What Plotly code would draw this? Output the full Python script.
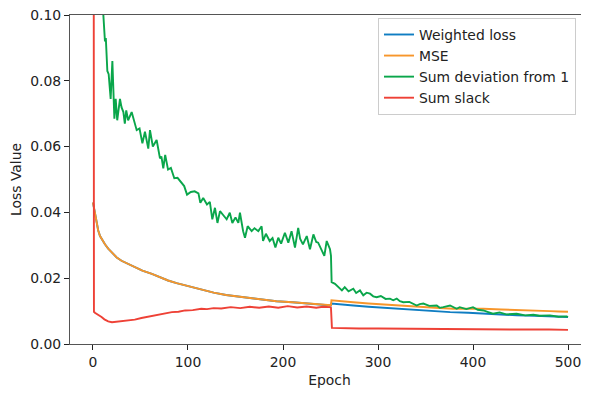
import plotly.graph_objects as go

# ---- Data ----
green_epoch = [0, 5, 8, 10.9, 12.6, 13.5, 15.1, 16.5, 18.6, 20.4, 21.5, 22.5, 23.9, 25.5, 28.4, 30, 32, 33.5, 35, 37,
               40.7, 43, 46, 49, 52, 54.7, 58.2, 60, 63, 67, 70.5, 72, 74, 76, 79, 82, 85.6, 89, 93, 96, 99, 103, 107,
               111, 113, 116, 120, 123, 125.6, 128.4, 131, 133.7, 137, 140.7, 144, 146.7, 150, 153, 154.7, 158, 160,
               162.8, 167, 170, 174, 177.5, 179, 182, 186, 189, 192, 195, 198, 202, 205.6, 209, 212.6, 216, 218, 221,
               225, 228.4, 232, 235, 237, 240.7, 243.5, 246, 249.5, 250.5, 251.2, 254.7, 258, 262, 265, 269, 274, 277,
               281, 284.5, 288, 291.6, 295, 298.6, 303, 308, 312.6, 316, 319.7, 323, 326.7, 333, 340.7, 344, 347.7, 354,
               361.8, 365, 368.7, 375.8, 382.8, 386, 393, 400, 405, 411, 416, 421, 428, 435, 446, 455, 463.5, 470, 481,
               490, 498.6, 500]
green_value = [0.25, 0.14, 0.112, 0.100, 0.092, 0.093, 0.083, 0.082, 0.0745, 0.086, 0.078, 0.0685, 0.0745, 0.068,
               0.0745, 0.072, 0.0705, 0.067, 0.071, 0.068, 0.0705, 0.068, 0.065, 0.0655, 0.061, 0.0645, 0.0594, 0.065,
               0.060, 0.062, 0.0564, 0.057, 0.0534, 0.0575, 0.053, 0.0535, 0.0504, 0.0505, 0.0489, 0.048, 0.0454,
               0.0462, 0.0464, 0.0458, 0.0429, 0.0444, 0.0424, 0.0432, 0.0379, 0.0414, 0.0368, 0.0404, 0.0392, 0.0379,
               0.0399, 0.0368, 0.0385, 0.0368, 0.0399, 0.0343, 0.0323, 0.0358, 0.0343, 0.0352, 0.0343, 0.0358, 0.0313,
               0.0335, 0.0313, 0.0322, 0.0293, 0.0323, 0.0305, 0.0338, 0.0308, 0.0343, 0.0293, 0.0353, 0.032, 0.0303,
               0.0328, 0.0288, 0.0333, 0.031, 0.0308, 0.0288, 0.0268, 0.0313, 0.0288, 0.0268, 0.0188, 0.0183, 0.0175,
               0.0163, 0.0173, 0.0160, 0.0168, 0.0155, 0.0163, 0.0148, 0.0156, 0.0153, 0.0145, 0.0142, 0.0146, 0.0137,
               0.0138, 0.0133, 0.0138, 0.0130, 0.0127, 0.0128, 0.0117, 0.0121, 0.0123, 0.0116, 0.0117, 0.0110, 0.0112,
               0.0117, 0.0107, 0.0112, 0.0106, 0.0112, 0.0104, 0.0102, 0.0097, 0.0092, 0.0096, 0.0090, 0.0092, 0.0087,
               0.0089, 0.0086, 0.0087, 0.0083, 0.0084, 0.0082]

mse_epoch = [0, 1, 2, 3.9, 5.5, 7.4, 10, 12.6, 16, 19.6, 25, 30, 37, 44, 52, 62, 70, 79, 88, 97, 105, 114, 123, 127,
             140, 158, 175, 193, 210, 228, 240, 249.5, 250.5, 251, 260, 274, 290, 309, 325, 344, 360, 379, 395, 411,
             430, 446, 465, 481, 490, 498.6, 500]
mse_value = [0.043, 0.0415, 0.0395, 0.0368, 0.0345, 0.0328, 0.0315, 0.0303, 0.029, 0.0278, 0.0263, 0.0253, 0.0243,
             0.0233, 0.0223, 0.0213, 0.0203, 0.0193, 0.0185, 0.0178, 0.0172, 0.0166, 0.0158, 0.0156, 0.0149, 0.0142,
             0.0136, 0.0130, 0.0127, 0.0123, 0.0120, 0.0117, 0.0118, 0.0133, 0.0130, 0.0127, 0.0123, 0.0119, 0.0116,
             0.0112, 0.0110, 0.0107, 0.0108, 0.0107, 0.0105, 0.0104, 0.0101, 0.0100, 0.0099, 0.0097, 0.0098]

weighted_epoch = [0, 1, 2, 3.9, 5.5, 7.4, 10, 12.6, 16, 19.6, 25, 30, 37, 44, 52, 62, 70, 79, 88, 97, 105, 114, 123,
                  127, 140, 158, 175, 193, 210, 228, 240, 249.5, 250.5, 251, 260, 274, 290, 309, 325, 344, 360, 376,
                  395, 411, 430, 446, 465, 481, 490, 498.6, 500]
weighted_value = [0.043, 0.0415, 0.0395, 0.0368, 0.0345, 0.0328, 0.0315, 0.0303, 0.029, 0.0278, 0.0263, 0.0253,
                  0.0243, 0.0233, 0.0223, 0.0213, 0.0203, 0.0193, 0.0185, 0.0178, 0.0172, 0.0166, 0.0158, 0.0156,
                  0.0149, 0.0142, 0.0136, 0.0130, 0.0127, 0.0123, 0.0120, 0.0117, 0.0117, 0.0123, 0.0120, 0.0117,
                  0.0113, 0.0109, 0.0106, 0.0102, 0.0100, 0.0097, 0.0095, 0.0092, 0.0090, 0.0087, 0.0086, 0.0084,
                  0.0083, 0.0082, 0.0082]

slack_epoch = [0, 1, 2, 3.9, 6, 9, 12, 16, 20, 23, 30, 37, 44, 51, 58, 65, 74, 83, 90, 97, 105, 114, 120, 127, 135,
               145, 155, 165, 175, 185, 195, 205, 215, 225, 235, 242, 249.5, 250.5, 251.5, 260, 280, 300, 330, 360,
               390, 420, 450, 480, 500]
slack_value = [0.5, 0.0098, 0.0095, 0.0092, 0.0088, 0.0082, 0.0075, 0.0069, 0.0066, 0.0067, 0.0068, 0.0072, 0.0074,
               0.0079, 0.0083, 0.0089, 0.0092, 0.0097, 0.0098, 0.0102, 0.0103, 0.0107, 0.0106, 0.0109, 0.0108, 0.0112,
               0.0109, 0.0113, 0.0110, 0.0114, 0.0110, 0.0115, 0.0111, 0.0114, 0.0110, 0.0113, 0.0112, 0.0110, 0.0049,
               0.0048, 0.0047, 0.0047, 0.0046, 0.0046, 0.0045, 0.0045, 0.0044, 0.0044, 0.0043]

series_names = ["Weighted loss", "MSE", "Sum deviation from 1", "Sum slack"]
series_colors = ["#0F7DC2", "#F7962B", "#0AA64B", "#EE4136"]
x_ticks = [0, 100, 200, 300, 400, 500]
y_ticks = [0.00, 0.02, 0.04, 0.06, 0.08, 0.10]

FONT = "DejaVu Sans"
FS = 13.9

fig = go.Figure()
for name, xs, ys, col in zip(series_names,
                             [weighted_epoch, mse_epoch, green_epoch, slack_epoch],
                             [weighted_value, mse_value, green_value, slack_value],
                             series_colors):
    fig.add_trace(go.Scatter(x=xs, y=ys, mode="lines", name=name,
                             line=dict(color=col, width=1.9)))

# page body has an 8px margin; the figure is sized to fit the 589x393 window
fig.update_layout(
    width=581, height=385,
    margin=dict(l=62, r=0, t=7, b=49, autoexpand=False),
    paper_bgcolor="white", plot_bgcolor="white",
    font=dict(family=FONT, size=FS, color="#222"),
    showlegend=True,
    legend=dict(x=0.5934, y=0.991, xanchor="left", yanchor="top",
                bgcolor="rgba(255,255,255,0.8)", bordercolor="#cccccc", borderwidth=1,
                font=dict(family=FONT, size=FS, color="#222"), tracegroupgap=0),
)
fig.update_xaxes(range=[-24.2, 522.1], tickvals=x_ticks, ticks="outside", ticklen=5, tickwidth=1,
                 tickcolor="#222", showline=True, linecolor="#555", linewidth=1.2, mirror=True,
                 showgrid=False, zeroline=False, automargin=False, ticklabeloverflow="allow",
                 title=dict(text="Epoch", font=dict(family=FONT, size=FS), standoff=6))
fig.update_yaxes(range=[0, 0.1], tickvals=y_ticks, tickformat=".2f", ticks="outside", ticklen=5, tickwidth=1,
                 tickcolor="#222", showline=True, linecolor="#555", linewidth=1.2,
                 showgrid=False, zeroline=False, automargin=False, ticklabeloverflow="allow",
                 title=dict(text="Loss Value", font=dict(family=FONT, size=FS), standoff=8))

fig.write_html("out.html")
